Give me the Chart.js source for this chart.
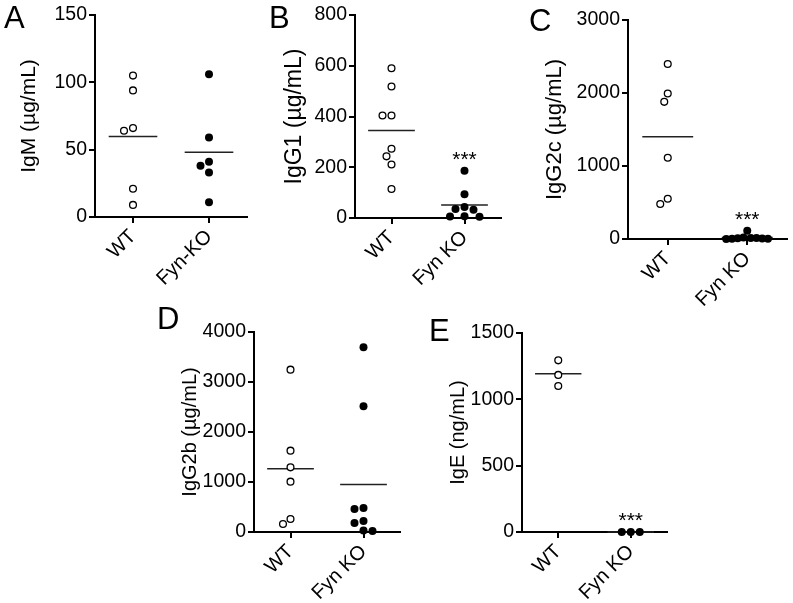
<!DOCTYPE html>
<html lang="en">
<head>
<meta charset="UTF-8">
<title>Serum immunoglobulins, WT vs Fyn KO</title>
<style>
  body { margin: 0; background: #fff; }
  #fig { position: relative; width: 793px; height: 603px; overflow: hidden;
         font-family: "Liberation Sans", Arial, sans-serif; }
  #fig canvas { position: absolute; }
  .tag { position: absolute; font-size: 31px; line-height: 30px; color: #000; }
</style>
</head>
<body>
<div id="fig">
  <canvas id="chartA"></canvas>
  <canvas id="chartB"></canvas>
  <canvas id="chartC"></canvas>
  <canvas id="chartD"></canvas>
  <canvas id="chartE"></canvas>
  <div class="tag" style="left:4px;top:3px">A</div>
  <div class="tag" style="left:269px;top:3px">B</div>
  <div class="tag" style="left:529px;top:6px">C</div>
  <div class="tag" style="left:157px;top:304px">D</div>
  <div class="tag" style="left:429px;top:316px">E</div>
</div>

<script src="https://cdn.jsdelivr.net/npm/chart.js"></script>
<script>
// values
const groupsA = ['WT', 'Fyn-KO'];
const groups = ['WT', 'Fyn KO'];

const igmWT = [105, 94, 66, 64, 21, 9];
const igmKO = [106, 59, 41, 38, 33, 11];

const igg1WT = [590, 518, 404, 404, 273, 243, 211, 114];
const igg1KO = [186, 94, 43, 35, 33, 7, 6, 5];

const igg2cWT = [2398, 1993, 1879, 1113, 552, 479];
const igg2cKO = [114, 20, 15, 12, 10, 8, 5, 3, 0];

const igg2bWT = [3247, 1627, 1293, 1007, 260, 160];
const igg2bKO = [3693, 2513, 480, 460, 220, 180, 30, 20];

const igeWT = [1294, 1184, 1101];
const igeKO = [0, 0, 0];

const TICK_SIZE = 19.5;
const CAT_SIZE = 20;
const GAP = 9;        // min distance between dot centres, px
const MAX_HALF = 21;  // widest a swarm may spread from its category, px
const MEAN_HALF = 0.32;

Chart.defaults.font.family = "'Liberation Sans', Arial, sans-serif";
Chart.defaults.color = '#000';

function mean(arr) {
    return arr.reduce((a, b) => a + b, 0) / arr.length;
}

function meanLine(arr, cat) {
    const m = mean(arr);
    return [{x: cat - MEAN_HALF, y: m}, {x: cat + MEAN_HALF, y: m}];
}

// spread dots that would overlap, like a beeswarm
function swarm(chart) {
    const xs = chart.scales.x, ys = chart.scales.y;
    const pxPerUnit = xs.getPixelForValue(2) - xs.getPixelForValue(1);
    chart.data.datasets.forEach(ds => {
        if (!ds.values) return;
        const offs = new Array(ds.values.length).fill(0);
        const placed = [];
        const order = ds.values.map((v, i) => i).sort((a, b) => ds.values[b] - ds.values[a]);
        order.forEach(i => {
            const py = ys.getPixelForValue(ds.values[i]);
            for (let s = 0; s < 80; s += 0.5) {
                const cand = s === 0 ? [0] : [-s, s];
                const ok = cand.find(c => placed.every(p => Math.hypot(p.x - c, p.y - py) >= GAP));
                if (ok !== undefined) {
                    offs[i] = ok;
                    placed.push({x: ok, y: py});
                    break;
                }
            }
        });
        const widest = Math.max(...offs.map(Math.abs));
        const k = widest > MAX_HALF ? MAX_HALF / widest : 1;
        ds.data = ds.values.map((v, i) => ({x: ds.cat + offs[i] * k / pxPerUnit, y: v}));
    });
    chart.update('none');
}

const starPlugin = {
    id: 'stars',
    afterDatasetsDraw(chart, args, opts) {
        if (!opts.show) return;
        const ds = chart.data.datasets[1];
        const ctx = chart.ctx;
        const x = chart.scales.x.getPixelForValue(ds.cat);
        const y = chart.scales.y.getPixelForValue(Math.max(...ds.values)) - 17;
        ctx.save();
        ctx.fillStyle = '#000';
        ctx.font = "21px 'Liberation Sans', Arial, sans-serif";
        ctx.textAlign = 'center';
        ctx.textBaseline = 'alphabetic';
        ctx.fillText('***', x, y + 12);
        ctx.restore();
    }
};

function makePanel(id, p) {
    const lh = p.titleSize * 1.2;
    const cLeft = p.titleX - 16;
    const cTop = p.plot.top - 14;
    const cW = p.plot.right + 12 - cLeft;
    const cH = p.plot.bottom + 90 - cTop;
    const canvas = document.getElementById(id);
    canvas.width = cW;
    canvas.height = cH;
    canvas.style.left = cLeft + 'px';
    canvas.style.top = cTop + 'px';
    const yWidth = p.plot.x - (p.titleX - lh / 2);

    const axisGrid = {drawOnChartArea: false, drawTicks: true, tickLength: 6, color: '#000', lineWidth: 2};
    const axisBorder = {display: true, color: '#000', width: 2};

    const chart = new Chart(canvas, {
        type: 'scatter',
        data: {
            datasets: [
                {label: p.cats[0], values: p.wt, cat: 1, data: p.wt.map(v => ({x: 1, y: v})),
                 pointRadius: 3.4, pointBorderWidth: 1.3, pointBackgroundColor: '#fff',
                 pointBorderColor: '#000', clip: false},
                {label: p.cats[1], values: p.ko, cat: 2, data: p.ko.map(v => ({x: 2, y: v})),
                 pointRadius: 4, pointBorderWidth: 0, pointBackgroundColor: '#000',
                 pointBorderColor: '#000', clip: false},
                {label: 'mean WT', data: meanLine(p.wt, 1), showLine: true, pointRadius: 0,
                 borderColor: '#222', borderWidth: 1.5, clip: false},
                {label: 'mean KO', data: meanLine(p.ko, 2), showLine: true, pointRadius: 0,
                 borderColor: '#222', borderWidth: 1.5, clip: false}
            ]
        },
        options: {
            responsive: false,
            animation: false,
            events: [],
            layout: {padding: {left: p.titleX - lh / 2 - cLeft, top: 14, right: 12, bottom: 0}},
            plugins: {
                legend: {display: false},
                tooltip: {enabled: false},
                stars: {show: p.stars}
            },
            scales: {
                x: {
                    type: 'linear', min: 0.5, max: 2.5,
                    afterBuildTicks(s) { s.ticks = [{value: 1}, {value: 2}]; },
                    ticks: {
                        callback: v => p.cats[Math.round(v) - 1],
                        minRotation: 45, maxRotation: 45,
                        color: '#000', font: {size: CAT_SIZE}, padding: 2
                    },
                    grid: axisGrid,
                    border: axisBorder,
                    afterFit(s) { s.height = 90; }
                },
                y: {
                    min: 0, max: p.max,
                    ticks: {stepSize: p.step, color: '#000', font: {size: TICK_SIZE}, padding: 2,
                            callback: v => String(v)},
                    grid: axisGrid,
                    border: axisBorder,
                    title: {display: true, text: p.title, color: '#000',
                            font: {size: p.titleSize}, padding: 0},
                    afterFit(s) { s.width = yWidth; }
                }
            }
        },
        plugins: [starPlugin]
    });
    swarm(chart);
    return chart;
}

makePanel('chartA', {cats: groupsA, wt: igmWT, ko: igmKO, title: 'IgM (µg/mL)',
    max: 150, step: 50, stars: false, titleX: 29, titleSize: 21,
    plot: {x: 95, top: 15, right: 247, bottom: 217}});

makePanel('chartB', {cats: groups, wt: igg1WT, ko: igg1KO, title: 'IgG1 (µg/mL)',
    max: 800, step: 200, stars: true, titleX: 295, titleSize: 23,
    plot: {x: 355, top: 15, right: 501, bottom: 218}});

makePanel('chartC', {cats: groups, wt: igg2cWT, ko: igg2cKO, title: 'IgG2c (µg/mL)',
    max: 3000, step: 1000, stars: true, titleX: 555, titleSize: 22,
    plot: {x: 628, top: 20, right: 787, bottom: 239}});

makePanel('chartD', {cats: groups, wt: igg2bWT, ko: igg2bKO, title: 'IgG2b (µg/mL)',
    max: 4000, step: 1000, stars: false, titleX: 190, titleSize: 20,
    plot: {x: 254, top: 332, right: 400, bottom: 532}});

makePanel('chartE', {cats: groups, wt: igeWT, ko: igeKO, title: 'IgE (ng/mL)',
    max: 1500, step: 500, stars: true, titleX: 458, titleSize: 20,
    plot: {x: 522, top: 333, right: 667, bottom: 532}});
</script>
</body>
</html>
